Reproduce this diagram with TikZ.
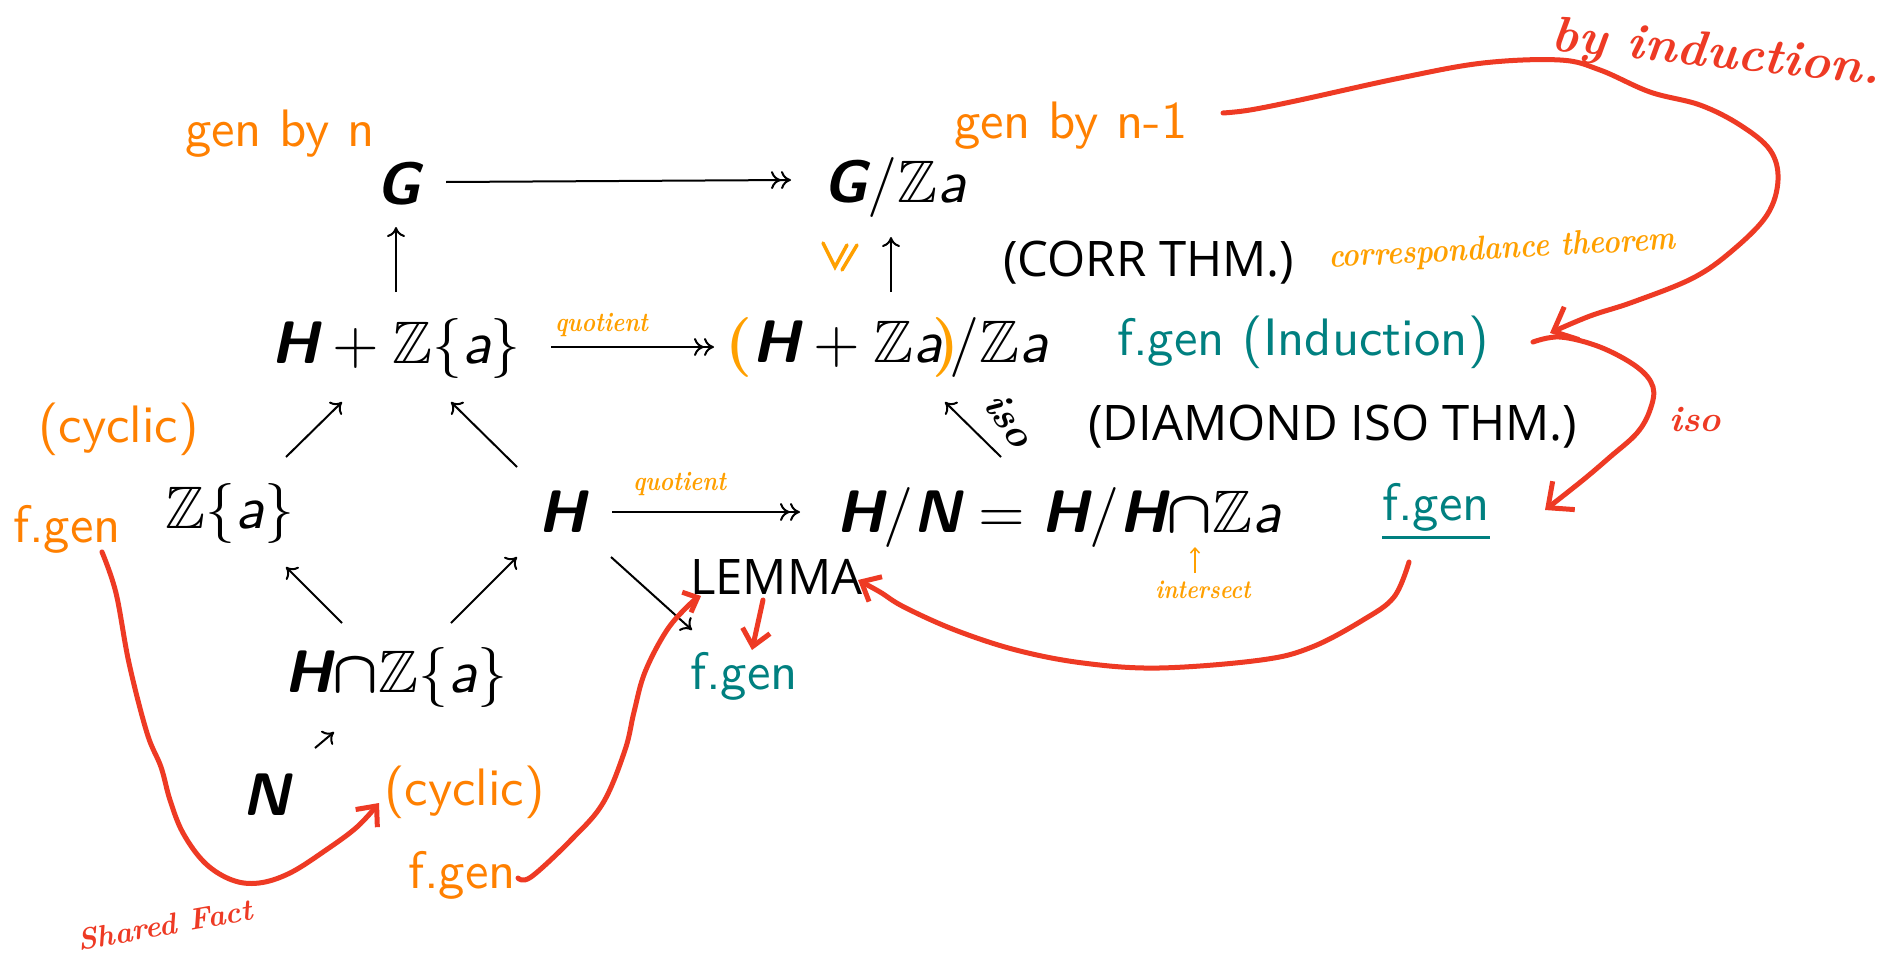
\RequirePackage{fix-cm}
\documentclass[tikz,border=0pt]{standalone}
\usepackage{amsmath,amssymb}
\usepackage{fontspec}
\newfontfamily\thmfont{Open Sans}
\usetikzlibrary{arrows.meta}

\definecolor{orangeT}{RGB}{255,128,0}
\definecolor{orangeH}{RGB}{255,160,0}
\definecolor{tealT}{RGB}{0,128,128}
\definecolor{redH}{RGB}{238,58,36}

% bold sans italic group letters, blackboard Z, sans italic a, heavy intersection
\newcommand{\sfb}[1]{\textsf{\bfseries\itshape #1}}
\newcommand{\ZZ}{\mathbb{Z}}
\newcommand{\sfa}{\textsf{\itshape a}}
\newcommand{\icap}{\mathord{\boldsymbol{\cap}}}
% slide-size type blown up: keeps the 10pt design of the fonts
\newcommand{\slidemath}[1]{\scalebox{6}{\fontsize{10pt}{12pt}\selectfont$#1$}}
\newcommand{\slidesf}[1]{\scalebox{5.27}{\sffamily\fontsize{10pt}{12pt}\selectfont #1}}
\newcommand{\opar}{\textcolor{orangeH}{\boldsymbol{(}}}
\newcommand{\cpar}{\textcolor{orangeH}{\boldsymbol{)}}}

\tikzset{
  math/.style={inner sep=0pt, text height=42pt, text depth=0pt},
  typed/.style={inner sep=0pt, anchor=base west},
  thm/.style={inner sep=0pt, anchor=base west,
              font=\thmfont\fontsize{49pt}{58pt}\selectfont},
  hand/.style={inner sep=0pt, font=\bfseries\itshape\fontsize{#1pt}{#1pt}\selectfont},
  ar/.style={line width=2pt, -{Computer Modern Rightarrow[length=10pt,width=18pt]}},
  qar/.style={line width=2pt, -{Computer Modern Rightarrow[length=10pt,width=18pt]
                                 Computer Modern Rightarrow[length=10pt,width=18pt]}},
  pen/.style={draw=redH, line width=5pt, line cap=round, line join=round},
  bigbarb/.style={-{Straight Barb[length=20pt,width=36pt]}},
  midbarb/.style={-{Straight Barb[length=16pt,width=28pt]}},
  smallbarb/.style={-{Straight Barb[length=12pt,width=22pt]}},
  congmark/.style={draw=orangeH, line width=3.5pt, line cap=round},
}

\begin{document}
\begin{tikzpicture}[x=1pt, y=-1pt]
\useasboundingbox (0,0) rectangle (1889,953);
\fill[white] (0,0) rectangle (1889,953);

% ---------- diagram objects ----------
\node[math] (G)   at (398,183) {\slidemath{\sfb{G}}};
\node[math] (GZ)  at (895,181) {\slidemath{\sfb{G}/\ZZ\sfa}};
\node[math] (HZ)  at (396,342) {\slidemath{\sfb{H}+\ZZ\{\sfa\}}};
\node[math] (Q)   at (887,341) {\slidemath{\opar\sfb{H}+\ZZ\sfa\!\cpar\!/\ZZ\sfa}};
\node[math] (Za)  at (230,507) {\slidemath{\ZZ\{\sfa\}}};
\node[math] (H)   at (562,511) {\slidemath{\sfb{H}}};
\node[math] (HN)  at (1059,511) {\slidemath{\sfb{H}/\sfb{N}=\sfb{H}/\sfb{H}\icap\ZZ\sfa}};
\node[math] (HcZ) at (396,671) {\slidemath{\sfb{H}\icap\ZZ\{\sfa\}}};
\node[math] (N)   at (266,794) {\slidemath{\sfb{N}}};

% ---------- typed notes ----------
\node[typed, text=orangeT] (gn)   at (185,146) {\slidesf{gen by n}};
\node[typed, text=orangeT] (gn1)  at (954,138) {\slidesf{gen by n-1}};
\node[typed, text=orangeT] (cyc1) at (38,442)  {\slidesf{(cyclic)}};
\node[typed, text=orangeT] (fg1)  at (13,542)  {\slidesf{f.gen}};
\node[typed, text=orangeT] (cyc2) at (384,805) {\slidesf{(cyclic)}};
\node[typed, text=orangeT] (fg3)  at (408,888) {\slidesf{f.gen}};
\node[typed, text=tealT]   (fgi)  at (1117,355) {\slidesf{f.gen (Induction)}};
\node[typed, text=tealT]   (fgu)  at (1382,520) {\slidesf{f.gen}};
\node[typed, text=tealT]   (fg2)  at (690,689) {\slidesf{f.gen}};
\draw[tealT, line width=3pt] ([yshift=-17pt]fgu.base west) -- ([yshift=-17pt]fgu.base east);

\node[thm] (corr)  at (1003,276) {(CORR THM.)};
\node[thm] (diam)  at (1088,440) {(DIAMOND ISO THM.)};
\node[thm] (lemma) at (690,594)  {LEMMA};

% ---------- handwritten notes ----------
\node[hand=34, text=orangeH, rotate=3] (corrh) at (1502,250) {\scalebox{0.85}[1]{correspondance theorem}};
\node[hand=26, text=orangeH] (inter) at (1203,590) {\scalebox{0.85}[1]{intersect}};
\node[hand=50, text=redH, rotate=-6] (byind) at (1716,55) {by induction.};
\node[hand=36, text=redH] (isoR) at (1695,420) {iso};
\node[hand=40, rotate=-55] (isoB) at (1010,420) {iso};
\node[hand=30, text=redH, rotate=10] (shared) at (165,925) {Shared Fact};

% ---------- black arrows ----------
\draw[qar] ([shift={(48,-1)}]G.center) -- ([shift={(-104,-1)}]GZ.center);
\draw[ar]  ([shift={(0,-50)}]HZ.center) -- ([shift={(-2,44)}]G.center);
\draw[qar] ([shift={(155,5)}]HZ.center) -- ([shift={(-173,6)}]Q.center)
   node[hand=27, text=orangeH, pos=0.31, yshift=22pt] (q1) {\scalebox{0.85}[1]{quotient}};
\draw[ar]  ([shift={(4,-49)}]Q.center) -- ([shift={(-4,56)}]GZ.center);
\draw[ar]  ([shift={(-58,-54)}]HN.center) -- ([shift={(58,61)}]Q.center);
\draw[ar]  ([shift={(56,-50)}]Za.center) -- ([shift={(-54,60)}]HZ.center);
\draw[ar]  ([shift={(-45,-44)}]H.center) -- ([shift={(55,60)}]HZ.center);
\draw[ar]  ([shift={(-54,-48)}]HcZ.center) -- ([shift={(56,60)}]Za.center);
\draw[ar]  ([shift={(55,-48)}]HcZ.center) -- ([shift={(-45,46)}]H.center);
\draw[qar] ([shift={(50,1)}]H.center) -- ([shift={(-259,1)}]HN.center)
   node[hand=27, text=orangeH, pos=0.36, yshift=28pt] (q2) {\scalebox{0.85}[1]{quotient}};
\draw[ar]  ([shift={(49,46)}]H.center) -- ([shift={(2,-59)}]fg2.base west);
\draw[ar]  ([shift={(49,-46)}]N.center) -- ([shift={(-62,61)}]HcZ.center);

% orange congruence mark beside the correspondence arrow
\draw[congmark] (823,243) -- (835,267) -- (847,245);
\draw[congmark] (842,270) -- (857,245);

% pointer from the note to the intersection
\draw[orangeH, line width=1.5pt, -{Straight Barb[length=5pt,width=9pt]}]
  ([shift={(-8,-17)}]inter.center) -- ([shift={(136,36)}]HN.center);

% ---------- red pen strokes ----------
\coordinate (a0) at ([shift={(269,-25)}]gn1.base west);
\coordinate (a1) at ([shift={(433,-22)}]fgi.base west);
\draw[pen, bigbarb] plot[smooth, tension=0.6] coordinates {
  (a0) (1250,110) (1300,100) (1400,78) (1483,63) (1560,60) (1600,70) (1650,92)
  (1700,105) (1740,125) (1770,150) (1778,180) (1767,215) (1733,250) (1693,278)
  (1633,302) (1590,316) (a1)};

\coordinate (b0) at ([shift={(416,-13)}]fgi.base west);
\coordinate (b1) at ([shift={(163,-10)}]fgu.base west);
\draw[pen, bigbarb] plot[smooth, tension=0.6] coordinates {
  (b0) (1560,337) (1600,347) (1637,367) (1653,387) (1650,410) (1637,433)
  (1610,457) (1583,480) (b1)};

\coordinate (c0) at ([shift={(27,42)}]fgu.base west);
\coordinate (c1) at ([shift={(168,-14)}]lemma.base west);
\draw[pen, midbarb] plot[smooth, tension=0.6] coordinates {
  (c0) (1394,597) (1363,620) (1312,647) (1261,660) (1159,668) (1083,663)
  (1016,650) (955,630) (904,607) (880,592) (c1)};

\coordinate (d0) at ([shift={(110,-10)}]fg3.base west);
\coordinate (d1) at ([shift={(11,2)}]lemma.base west);
\draw[pen, smallbarb] plot[smooth, tension=0.6] coordinates {
  (d0) (531,877) (571,840) (603,803) (625,750) (634,712) (645,672) (667,630)
  (690,604) (d1)};

\draw[pen, midbarb] ([shift={(73,6)}]lemma.base west) -- ([shift={(62,-39)}]fg2.base west);

\coordinate (f0) at ([shift={(89,10)}]fg1.base west);
\coordinate (f1) at ([shift={(-5,-2)}]cyc2.base west);
\draw[pen, midbarb] plot[smooth, tension=0.6] coordinates {
  (f0) (116,593) (129,663) (147,733) (161,767) (170,800) (183,833) (205,863)
  (232,880) (259,883) (290,873) (326,850) (357,827) (f1)};
\end{tikzpicture}
\end{document}
